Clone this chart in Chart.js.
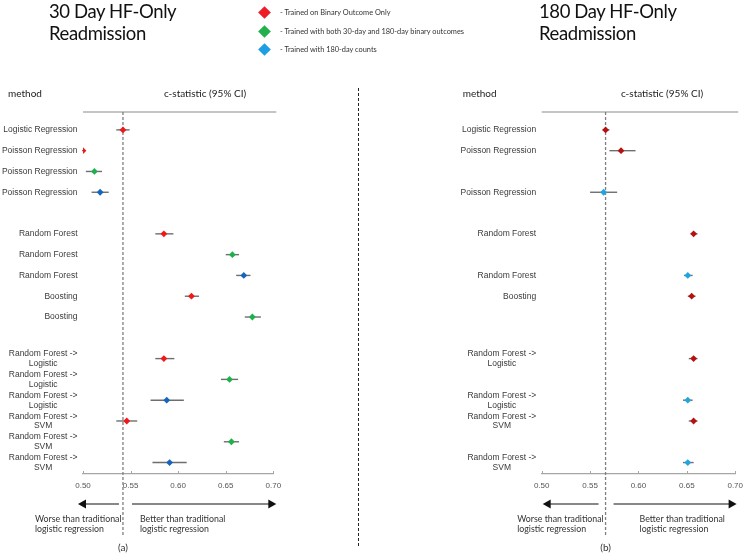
<!DOCTYPE html>
<html>
<head>
<meta charset="utf-8">
<script src="https://cdn.jsdelivr.net/npm/chart.js@4.4.1/dist/chart.umd.min.js"></script>
<style>
  body { margin: 0; width: 750px; height: 555px; background: #fff; position: relative; overflow: hidden; font-family: Lato, sans-serif; }
  canvas { position: absolute; top: 0; }
  #chart-a { left: 0; }
  #chart-b { left: 358px; }
  .title { position: absolute; top: 0; font-size: 18.5px; letter-spacing: -0.4px; line-height: 22px; color: #111; z-index: 2; }
  #legend { position: absolute; left: 0; top: 0; z-index: 2; }
  .lg-item { position: absolute; left: 258px; height: 14px; white-space: nowrap; }
  .lg-item i { position: absolute; left: 2px; top: 2px; width: 9px; height: 9px; transform: rotate(45deg); }
  .lg-item span { position: absolute; left: 22px; top: 0; line-height: 14px; font-size: 7.4px; color: #333; }
  #divider { position: absolute; left: 358px; top: 88px; height: 458px; border-left: 1.3px dashed #222; z-index: 2; }
</style>
</head>
<body>
<div class="title" style="left:49px">30 Day HF-Only<br>Readmission</div>
<div class="title" style="left:539px">180 Day HF-Only<br>Readmission</div>
<div id="legend"></div>
<div id="divider"></div>
<canvas id="chart-a" width="358" height="555"></canvas>
<canvas id="chart-b" width="392" height="555"></canvas>
<script>
const xTicks = [0.50, 0.55, 0.60, 0.65, 0.70];
const seriesNames = [
    '- Trained on Binary Outcome Only',
    '- Trained with both 30-day and 180-day binary outcomes',
    '- Trained with 180-day counts',
];
const legendColors = ['#ee1c25', '#22b14c', '#1e9fe5'];

// panel (a): 30 day
const methodRowsA = [1, 2, 3, 4, 6, 7, 8, 9, 10, 12, 13, 14, 15, 16, 17];
const methodsA = [
    'Logistic Regression', 'Poisson Regression', 'Poisson Regression', 'Poisson Regression',
    'Random Forest', 'Random Forest', 'Random Forest', 'Boosting', 'Boosting',
    ['Random Forest ->', 'Logistic'], ['Random Forest ->', 'Logistic'], ['Random Forest ->', 'Logistic'],
    ['Random Forest ->', 'SVM'], ['Random Forest ->', 'SVM'], ['Random Forest ->', 'SVM'],
];
const binaryRowsA = [1, 2, 6, 9, 12, 15];
const binaryA = [0.542, 0.500, 0.585, 0.614, 0.585, 0.546];
const binaryLoA = [0.535, 0.499, 0.576, 0.607, 0.576, 0.535];
const binaryHiA = [0.549, 0.501, 0.595, 0.622, 0.596, 0.557];
const bothRowsA = [3, 7, 10, 13, 16];
const bothA = [0.512, 0.657, 0.678, 0.654, 0.656];
const bothLoA = [0.503, 0.650, 0.670, 0.645, 0.648];
const bothHiA = [0.520, 0.664, 0.687, 0.663, 0.664];
const countsRowsA = [4, 8, 14, 17];
const countsA = [0.518, 0.669, 0.588, 0.591];
const countsLoA = [0.509, 0.661, 0.571, 0.573];
const countsHiA = [0.527, 0.676, 0.606, 0.609];

// panel (b): 180 day
const methodRowsB = [1, 2, 4, 6, 8, 9, 12, 14, 15, 17];
const methodsB = [
    'Logistic Regression', 'Poisson Regression', 'Poisson Regression',
    'Random Forest', 'Random Forest', 'Boosting',
    ['Random Forest ->', 'Logistic'], ['Random Forest ->', 'Logistic'],
    ['Random Forest ->', 'SVM'], ['Random Forest ->', 'SVM'],
];
const binaryRowsB = [1, 2, 6, 9, 12, 15];
const binaryB = [0.566, 0.582, 0.657, 0.655, 0.657, 0.657];
const binaryLoB = [0.563, 0.570, 0.654, 0.651, 0.652, 0.652];
const binaryHiB = [0.570, 0.597, 0.661, 0.659, 0.661, 0.661];
const countsRowsB = [4, 8, 14, 17];
const countsB = [0.564, 0.651, 0.651, 0.651];
const countsLoB = [0.550, 0.647, 0.646, 0.646];
const countsHiB = [0.578, 0.656, 0.656, 0.657];

// legend
const legendEl = document.getElementById('legend');
seriesNames.forEach((name, i) => {
    const item = document.createElement('div');
    item.className = 'lg-item';
    item.style.top = (6 + i * 18.5) + 'px';
    item.innerHTML = `<i style="background:${legendColors[i]}"></i><span>${name}</span>`;
    legendEl.appendChild(item);
});

const series = (rows, c, lo, hi, color) => ({
    data: rows.map((r, i) => ({ x: c[i], y: r })),
    lo,
    hi,
    backgroundColor: color,
    borderColor: color,
    borderWidth: 0,
    pointStyle: 'rectRot',
    pointRadius: 3.4,
});

const arrow = (ctx, x0, x1, y) => {
    const dir = Math.sign(x1 - x0);
    ctx.beginPath();
    ctx.moveTo(x0, y);
    ctx.lineTo(x1 - dir * 6, y);
    ctx.stroke();
    ctx.beginPath();
    ctx.moveTo(x1, y);
    ctx.lineTo(x1 - dir * 8, y - 4.5);
    ctx.lineTo(x1 - dir * 8, y + 4.5);
    ctx.closePath();
    ctx.fill();
};

const forestPlugin = (p) => ({
    id: 'forest',
    beforeDatasetsDraw(chart) {
        const { ctx, chartArea: a, scales: { x, y } } = chart;
        ctx.save();
        ctx.strokeStyle = '#8c8c8c';
        ctx.lineWidth = 1.2;
        ctx.beginPath();
        ctx.moveTo(a.left, a.top);
        ctx.lineTo(a.right + 3, a.top);
        ctx.stroke();

        ctx.strokeStyle = '#a6a6a6';
        ctx.lineWidth = 1;
        xTicks.forEach((v) => {
            const px = Math.round(x.getPixelForValue(v)) + 0.5;
            ctx.beginPath();
            ctx.moveTo(px, a.bottom);
            ctx.lineTo(px, a.bottom - 3);
            ctx.stroke();
        });

        const rx = x.getPixelForValue(p.ref);
        ctx.setLineDash([3, 2]);
        ctx.strokeStyle = '#7f7f7f';
        ctx.lineWidth = 1.3;
        ctx.beginPath();
        ctx.moveTo(rx, a.top);
        ctx.lineTo(rx, 536);
        ctx.stroke();
        ctx.setLineDash([]);

        // confidence intervals
        ctx.strokeStyle = '#6e6e6e';
        ctx.lineWidth = 1.4;
        chart.data.datasets.forEach((ds) => {
            ds.data.forEach((pt, i) => {
                const py = y.getPixelForValue(pt.y);
                ctx.beginPath();
                ctx.moveTo(x.getPixelForValue(ds.lo[i]), py);
                ctx.lineTo(x.getPixelForValue(ds.hi[i]), py);
                ctx.stroke();
            });
        });
        ctx.restore();
    },
    afterDraw(chart) {
        const { ctx, chartArea: a, scales: { x, y } } = chart;
        const rx = x.getPixelForValue(p.ref);
        ctx.save();

        // method labels
        ctx.fillStyle = '#3a3a3a';
        ctx.font = '8.5px "Liberation Sans", Arial, sans-serif';
        ctx.textBaseline = 'middle';
        const lx = a.left - 5.5;
        p.rows.forEach((r, i) => {
            const py = y.getPixelForValue(r);
            const lab = p.methods[i];
            if (Array.isArray(lab)) {
                const w = ctx.measureText(lab[0]).width;
                ctx.textAlign = 'right';
                ctx.fillText(lab[0], lx, py - 4.8);
                ctx.textAlign = 'center';
                ctx.fillText(lab[1], lx - w / 2, py + 5);
            } else {
                ctx.textAlign = 'right';
                ctx.fillText(lab, lx, py);
            }
        });

        // headers
        ctx.fillStyle = '#222';
        ctx.font = '10px Lato, sans-serif';
        ctx.textAlign = 'left';
        ctx.fillText('method', p.methodX, a.top - 18);
        ctx.textAlign = 'center';
        ctx.fillText('c-statistic (95% CI)', p.statX, a.top - 18);

        // arrows
        ctx.strokeStyle = '#111';
        ctx.fillStyle = '#111';
        ctx.lineWidth = 1.2;
        arrow(ctx, rx + p.arrowL[0], a.left + p.arrowL[1], 504);
        arrow(ctx, rx + p.arrowR[0], a.right + p.arrowR[1], 504);

        ctx.fillStyle = '#333';
        ctx.font = '8.8px Lato, sans-serif';
        ctx.textAlign = 'left';
        ctx.fillText('Worse than traditional', rx + p.worseX, 519);
        ctx.fillText('logistic regression', rx + p.worseX, 529.5);
        ctx.fillText('Better than traditional', rx + p.betterX, 519);
        ctx.fillText('logistic regression', rx + p.betterX, 529.5);

        ctx.font = '10px Lato, sans-serif';
        ctx.textAlign = 'center';
        ctx.fillText(p.tag, rx, 548);
        ctx.restore();
    },
});

const makeChart = (id, datasets, pad, p) => new Chart(document.getElementById(id), {
    type: 'scatter',
    data: { datasets },
    options: {
        responsive: false,
        animation: false,
        events: [],
        layout: { padding: { left: pad[0], right: pad[1], top: 112, bottom: 51 } },
        plugins: { legend: { display: false }, tooltip: { enabled: false } },
        scales: {
            x: {
                type: 'linear',
                min: 0.5,
                max: 0.7,
                afterBuildTicks: (s) => { s.ticks = xTicks.map((v) => ({ value: v })); },
                afterFit: (s) => { s.height = 30; },
                grid: { drawOnChartArea: false, drawTicks: false },
                border: { color: '#a6a6a6', width: 1.2 },
                ticks: {
                    padding: 7,
                    color: '#555',
                    font: { family: '"Liberation Sans", Arial, sans-serif', size: 8 },
                    callback: (v) => v.toFixed(2),
                },
            },
            y: { type: 'linear', display: false, reverse: true, min: 0.14, max: 17.55 },
        },
    },
    plugins: [forestPlugin(p)],
});

makeChart('chart-a', [
    series(binaryRowsA, binaryA, binaryLoA, binaryHiA, '#f01818'),
    series(bothRowsA, bothA, bothLoA, bothHiA, '#1db14b'),
    series(countsRowsA, countsA, countsLoA, countsHiA, '#1565c0'),
], [83, 84.7], {
    ref: binaryA[0], rows: methodRowsA, methods: methodsA, tag: '(a)',
    methodX: 8, statX: 205, arrowL: [-4, -5], arrowR: [9, 3], worseX: -88, betterX: 17,
});

makeChart('chart-b', [
    series(binaryRowsB, binaryB, binaryLoB, binaryHiB, '#b80f0f'),
    series(countsRowsB, countsB, countsLoB, countsHiB, '#21a5e0'),
], [183.7, 10.7], {
    ref: binaryB[0], rows: methodRowsB, methods: methodsB, tag: '(b)',
    methodX: 104.7, statX: 304, arrowL: [-7, 1], arrowR: [8, 1.4], worseX: -88.4, betterX: 34,
});
</script>
</body>
</html>
